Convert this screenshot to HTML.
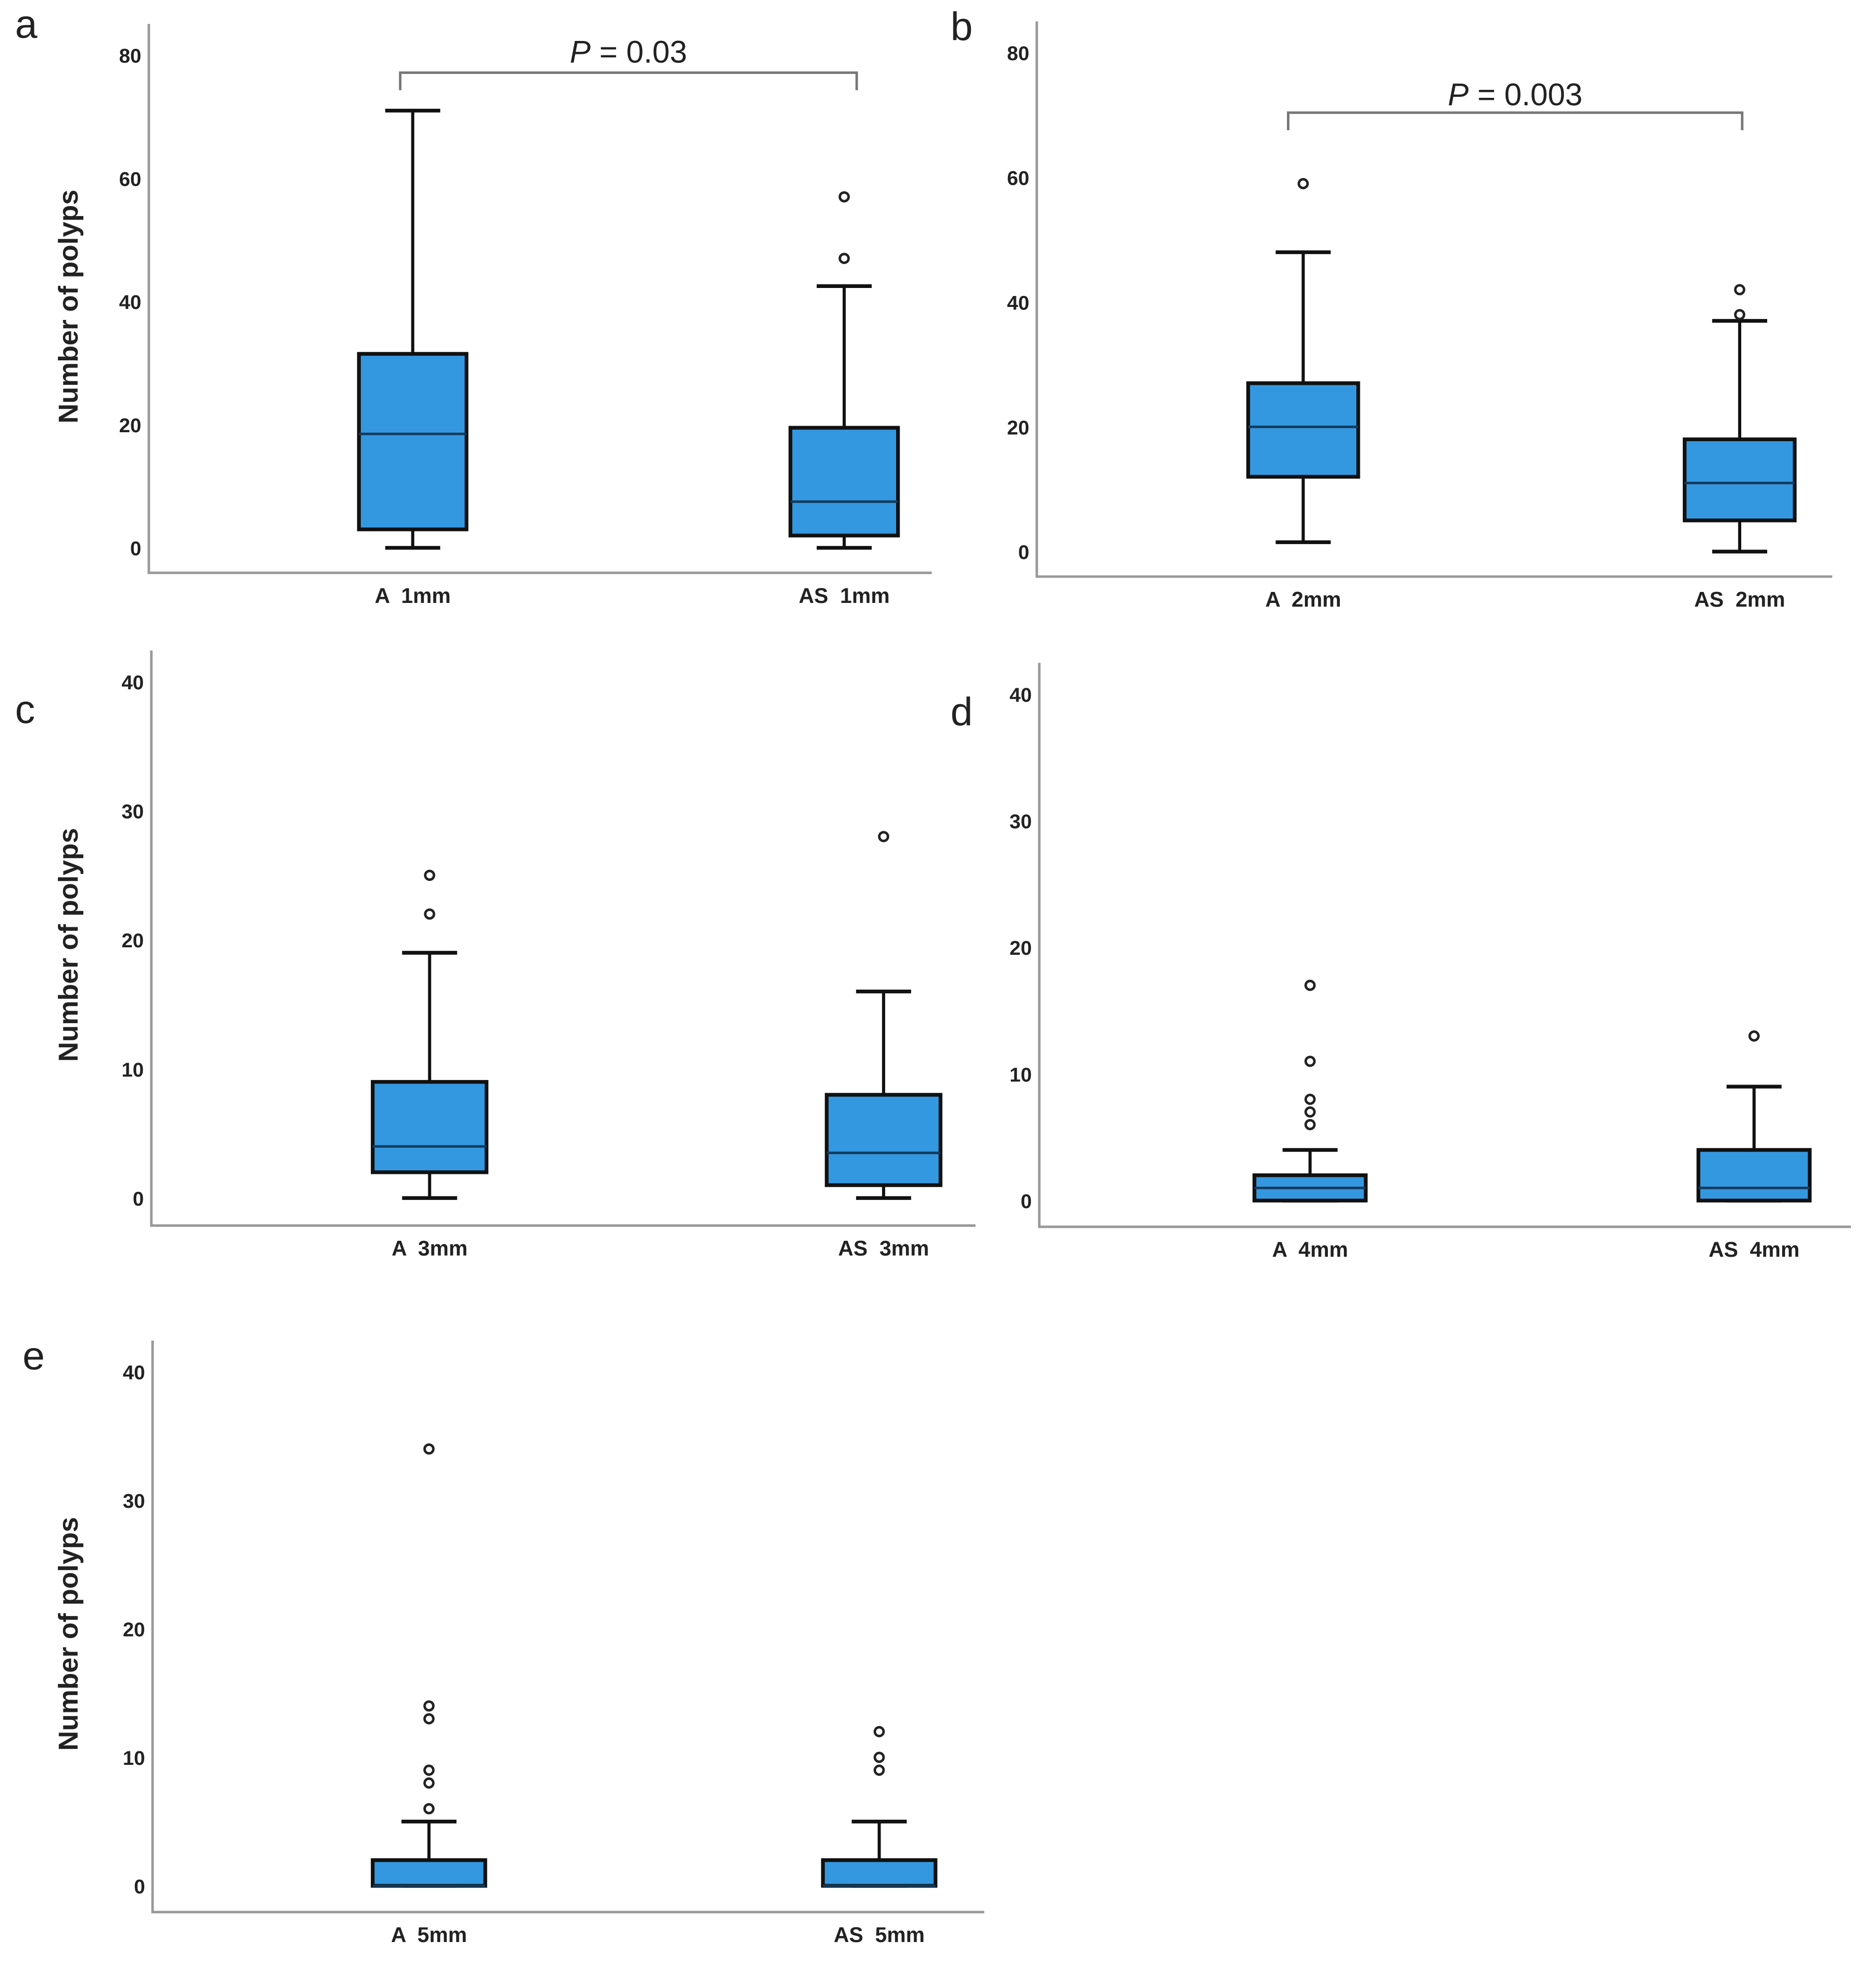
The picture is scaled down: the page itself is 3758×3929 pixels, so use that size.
<!DOCTYPE html>
<html><head><meta charset="utf-8"><style>
html,body{margin:0;padding:0;background:#fff}
svg{display:block}
text{font-family:"Liberation Sans",Arial,sans-serif;fill:#222;white-space:pre}
</style></head>
<body>
<svg id="chart" width="3758" height="3929" viewBox="0 0 1500 1568" xmlns="http://www.w3.org/2000/svg"></svg>
<script>
const panelLetters = ["a","b","c","d","e"];
const categoriesA = ["A  1mm","A  2mm","A  3mm","A  4mm","A  5mm"];
const categoriesAS = ["AS  1mm","AS  2mm","AS  3mm","AS  4mm","AS  5mm"];
const yMax = [80,80,40,40,40];
const yTickStep = [20,20,10,10,10];
// [low whisker, q1, median, q3, high whisker]
const statsA = [[0,3,18.5,31.5,71],[1.5,12,20,27,48],[0,2,4,9,19],[0,0,1,2,4],[0,0,0,2,5]];
const statsAS = [[0,2,7.5,19.5,42.5],[0,5,11,18,37],[0,1,3.5,8,16],[0,0,1,4,9],[0,0,0,2,5]];
const outliersA = [[],[59],[25,22],[17,11,8,7,6],[34,14,13,9,8,6]];
const outliersAS = [[57,47],[42,38],[28],[13],[12,10,9]];
const pValues = ["0.03","0.003",null,null,null];

const layout = [
 {ax:119,bottom:458,right:745,yTop:44,y0:438,bx:[287,632],bw:86,letter:[12,30],title:true,br:[320,685,58,40]},
 {ax:829,bottom:461,right:1465,yTop:42,y0:441,bx:[998,1347],bw:88,letter:[760,32],title:false,br:[1030,1393,90,74]},
 {ax:121,bottom:980,right:780,yTop:545,y0:958,bx:[298,661],bw:91,letter:[12,578],title:true},
 {ax:831,bottom:981,right:1480,yTop:555,y0:960,bx:[1003,1358],bw:89,letter:[760,580],title:false},
 {ax:122,bottom:1529,right:787,yTop:1097,y0:1508,bx:[298,658],bw:90,letter:[18,1095],title:true}
];
const svg = document.getElementById('chart');
const NS = "http://www.w3.org/2000/svg";
function mk(tag, attrs, parent){
  const e = document.createElementNS(NS, tag);
  for (const k in attrs) e.setAttribute(k, attrs[k]);
  (parent||svg).appendChild(e);
  return e;
}
layout.forEach((L, i) => {
  const g = mk('g', {});
  
  
  const y = v => L.y0 - (v / yMax[i]) * (L.y0 - L.yTop);
  const lt = mk('text', {x:L.letter[0], y:L.letter[1], 'font-size':32}, g);
  lt.textContent = panelLetters[i];
  
  
  const axes = mk('path', {d:`M${L.ax},${L.yTop-25}V${L.bottom}H${L.right}`, stroke:'#999', 'stroke-width':2, fill:'none'}, g);
  
  
  for (let v = 0; v <= yMax[i]; v += yTickStep[i]) {
    const t = mk('text', {x:L.ax-6, y:y(v)+6, 'font-size':16, 'font-weight':'bold', 'text-anchor':'end'}, g);
    t.textContent = v;
    
    
  }
  if (L.title) {
    const cy = (L.yTop + L.y0) / 2 + 4;
    const t = mk('text', {x:0, y:0, 'font-size':22, 'font-weight':'bold', 'text-anchor':'middle', transform:`translate(62,${cy}) rotate(-90)`}, g);
    t.textContent = 'Number of polyps';
    
    
  }
  [[statsA, outliersA, categoriesA],[statsAS, outliersAS, categoriesAS]].forEach((grp, j) => {
    const s = grp[0][i], cx = L.bx[j] + L.bw/2, x0 = L.bx[j], w = L.bw;
    const bg = mk('g', {}, g);
    
    
    mk('line', {x1:cx, x2:cx, y1:y(s[0]), y2:y(s[4]), stroke:'#111', 'stroke-width':2.5}, bg);
    mk('line', {x1:cx-22, x2:cx+22, y1:y(s[0]), y2:y(s[0]), stroke:'#111', 'stroke-width':3}, bg);
    mk('line', {x1:cx-22, x2:cx+22, y1:y(s[4]), y2:y(s[4]), stroke:'#111', 'stroke-width':3}, bg);
    mk('rect', {x:x0, y:y(s[3]), width:w, height:Math.max(y(s[1])-y(s[3]),1), fill:'#3498e0', stroke:'#111', 'stroke-width':3}, bg);
    mk('line', {x1:x0, x2:x0+w, y1:y(s[2]), y2:y(s[2]), stroke:'#123a5c', 'stroke-width':2}, bg);
    grp[1][i].forEach(o => {
      const c = mk('circle', {cx:cx, cy:y(o), r:3.5, fill:'#fff', stroke:'#222', 'stroke-width':2}, bg);
      
      
    });
    const xl = mk('text', {x:cx, y:L.bottom+24, 'font-size':17, 'font-weight':'bold', 'text-anchor':'middle'}, g);
    xl.textContent = grp[2][i];
    
    
  });
  if (pValues[i]) {
    const b = L.br;
    const br = mk('path', {d:`M${b[0]},${b[2]+14}V${b[2]}H${b[1]}V${b[2]+14}`, stroke:'#777', 'stroke-width':2, fill:'none'}, g);
    
    
    const t = mk('text', {x:(b[0]+b[1])/2, y:b[3]+10, 'font-size':25, 'text-anchor':'middle'}, g);
    t.innerHTML = '<tspan font-style="italic">P</tspan> = ' + pValues[i];
    
    
  }
});
</script>
</body></html>
